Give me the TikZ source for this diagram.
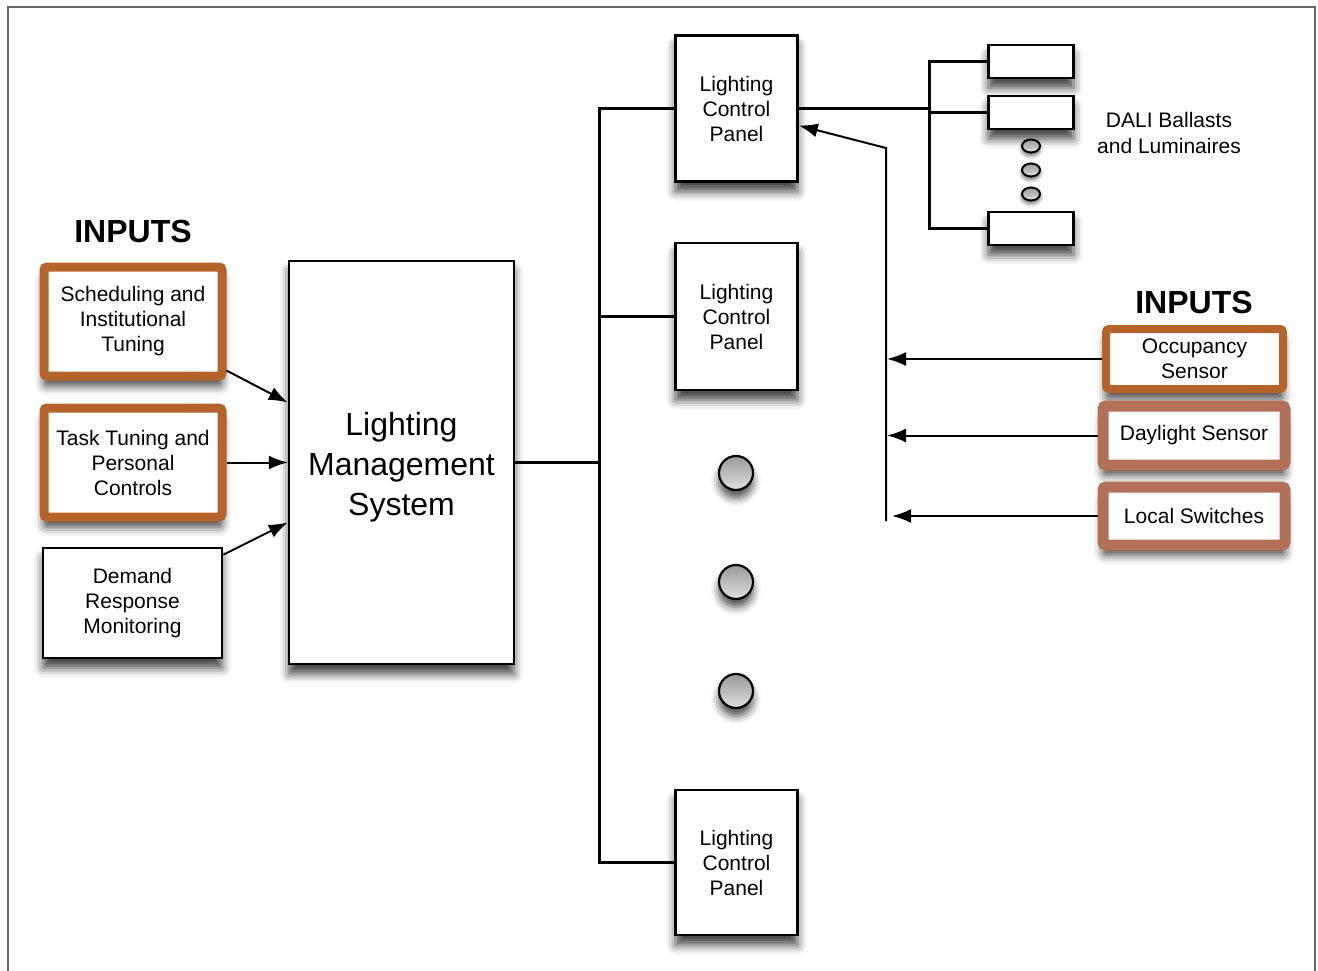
\documentclass[tikz,border=0pt]{standalone}
\usepackage{fontspec}
\setmainfont{Liberation Sans}
\usetikzlibrary{arrows.meta,shapes.geometric,shadows.blur}

\definecolor{inorange}{RGB}{180,100,42}
\definecolor{inbrown}{RGB}{178,112,88}

\tikzset{
  box/.style={draw, line width=2.5pt, fill=white, align=center,
    font=\fontsize{21}{25}\selectfont,
    blur shadow={shadow xshift=0pt, shadow yshift=-10pt, shadow blur radius=9pt, shadow opacity=75}},
  inbox/.style={box, draw=inorange, line width=9pt, rounded corners=3pt},
  sensbox/.style={box, draw=inbrown, line width=11pt, rounded corners=3pt},
  wire/.style={line width=3pt},
  arr/.style={line width=2pt, -{Latex[length=19pt,width=14pt]}},
  dot/.style={circle, draw, line width=2.2pt, minimum size=34pt, inner sep=0pt,
    top color=gray!80, bottom color=gray!25,
    blur shadow={shadow xshift=0pt, shadow yshift=-8pt, shadow blur radius=8pt, shadow opacity=70}},
  bead/.style={ellipse, draw, line width=2pt, minimum width=18pt, minimum height=13pt, inner sep=0pt,
    top color=gray!80, bottom color=gray!25,
    blur shadow={shadow xshift=0pt, shadow yshift=-3pt, shadow blur radius=4pt, shadow opacity=60}},
  heading/.style={font=\fontsize{32}{36}\selectfont\bfseries}
}

\begin{document}
\begin{tikzpicture}[x=1pt,y=-1pt]

    \useasboundingbox (0,0) rectangle (1318,971);
    \draw[gray!80!black, line width=1.5pt] (8,971) -- (8,7) -- (1315,7) -- (1315,971);

    % inputs to the management system
    \node[heading] (inleft) at (133,231) {INPUTS};
    \node[inbox, minimum width=178pt, minimum height=109pt] (sched) at (133,321.5) {Scheduling and\\Institutional\\Tuning};
    \node[inbox, minimum width=178pt, minimum height=109pt] (task) at (133,462.5) {Task Tuning and\\Personal\\Controls};
    \node[box, minimum width=179pt, minimum height=110pt] (demand) at (132.5,603) {Demand\\Response\\Monitoring};

    \node[box, minimum width=225pt, minimum height=403pt, font=\fontsize{32}{40}\selectfont] (lms) at (401.5,462.5) {\rule{0pt}{33pt}Lighting\\Management\\System};

    % control panels
    \node[box, minimum width=122pt, minimum height=146pt] (lcp1) at (736.5,108.5) {Lighting\\Control\\Panel};
    \node[box, minimum width=122pt, minimum height=147pt] (lcp2) at (736.5,316.5) {Lighting\\Control\\Panel};
    \node[box, minimum width=122pt, minimum height=145pt] (lcp3) at (736.5,862.5) {Lighting\\Control\\Panel};

    \node[dot] (d1) at (736,473) {};
    \node[dot] (d2) at (736,582) {};
    \node[dot] (d3) at (736,691) {};

    % ballasts
    \node[box, minimum width=85pt, minimum height=33pt] (b1) at (1031,61.5) {};
    \node[box, minimum width=85pt, minimum height=33pt] (b2) at (1031,112.5) {};
    \node[bead] (o1) at (1031,146) {};
    \node[bead] (o2) at (1031,170) {};
    \node[bead] (o3) at (1031,194) {};
    \node[box, minimum width=85pt, minimum height=33pt] (b3) at (1031,228.5) {};
    \node[align=center, font=\fontsize{21}{26}\selectfont] (dali) at (1169,133) {DALI Ballasts\\and Luminaires};

    % sensors
    \node[heading] (inright) at (1194,302) {INPUTS};
    \node[inbox, line width=8pt, minimum width=177pt, minimum height=60pt] (occ) at (1194.5,359) {Occupancy\\Sensor};
    \node[sensbox, minimum width=182pt, minimum height=59pt] (day) at (1194,435.5) {Daylight Sensor};
    \node[sensbox, minimum width=182pt, minimum height=58pt] (sw) at (1194,516) {Local Switches};

    \coordinate (bus) at (599,0);
    \coordinate (dbus) at (929,0);
    \coordinate (fb) at (886,148);
    \coordinate (fbend) at (886,521);

    \draw[arr] ([yshift=10pt]sched.south east) -- ([yshift=60pt]lms.west);
    \draw[arr] (task.east) -- (lms.west);
    \draw[arr] ([yshift=-8pt]demand.north east) -- ([yshift=-60pt]lms.west);

    \draw[wire] (lms.east) -- (lms.east -| bus);
    \draw[wire] (lcp1.west) -- (lcp1.west -| bus) -- (lcp3.west -| bus) -- (lcp3.west);
    \draw[wire] (lcp2.west) -- (lcp2.west -| bus);

    \draw[wire] (lcp1.east) -- (lcp1.east -| dbus);
    \draw[wire] (b1.west) -- (b1.west -| dbus) -- (b3.west -| dbus) -- (b3.west);
    \draw[wire] (b2.west) -- (b2.west -| dbus);

    \draw[arr] (fbend) -- (fb) -- ([yshift=-17pt]lcp1.east);
    \draw[arr] (occ.west) -- ([xshift=1pt]occ.west -| fb);
    \draw[arr] (day.west) -- ([xshift=1pt]day.west -| fb);
    \draw[arr] (sw.west) -- ([xshift=6pt]sw.west -| fb);

\end{tikzpicture}
\end{document}
